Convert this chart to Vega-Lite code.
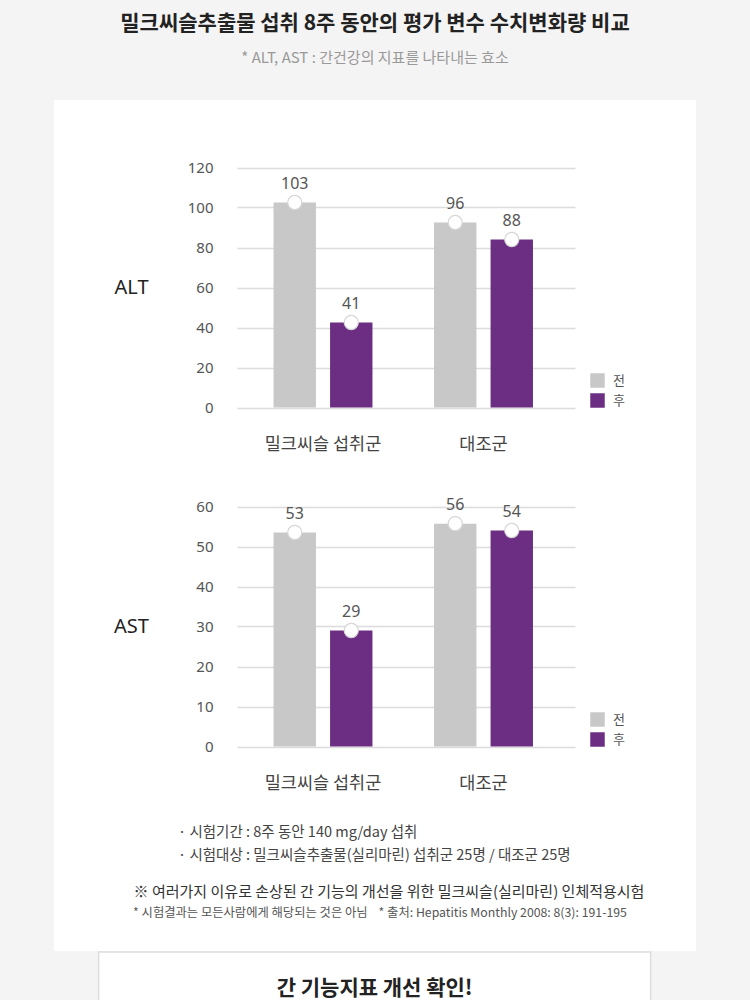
{
  "$schema": "https://vega.github.io/schema/vega-lite/v6.json",
  "background": "#f4f4f4",
  "padding": {"top": 13, "left": 54, "right": 54, "bottom": 0},
  "title": {
    "text": "밀크씨슬추출물 섭취 8주 동안의 평가 변수 수치변화량 비교",
    "subtitle": "* ALT, AST : 간건강의 지표를 나타내는 효소",
    "anchor": "middle",
    "font": "Noto Sans CJK KR",
    "fontSize": 21,
    "fontWeight": 700,
    "color": "#222222",
    "subtitleFont": "Noto Sans CJK KR",
    "subtitleFontSize": 15,
    "subtitleColor": "#999999",
    "subtitlePadding": 16.5,
    "offset": 34.5
  },
  "config": {
    "view": {"stroke": null, "fill": "#ffffff"},
    "font": "Noto Sans CJK KR",
    "axis": {"labelFont": "Noto Sans", "titleFont": "Noto Sans"},
    "legend": {
      "orient": "none",
      "title": null,
      "symbolType": "square",
      "symbolSize": 210,
      "symbolStrokeWidth": 0,
      "symbolOpacity": 1,
      "labelFont": "Noto Sans CJK KR",
      "labelFontSize": 13,
      "labelColor": "#555555",
      "labelOffset": 8,
      "rowPadding": 5,
      "padding": 0
    }
  },
  "spacing": 0,
  "center": true,
  "resolve": {"scale": {"color": "independent"}, "legend": {"color": "independent"}},
  "datasets": {
    "alt": [
      {"group": "밀크씨슬 섭취군", "period": "전", "value": 102.5, "label": "103"},
      {"group": "밀크씨슬 섭취군", "period": "후", "value": 42.5, "label": "41"},
      {"group": "대조군", "period": "전", "value": 92.5, "label": "96"},
      {"group": "대조군", "period": "후", "value": 84, "label": "88"}
    ],
    "ast": [
      {"group": "밀크씨슬 섭취군", "period": "전", "value": 53.5, "label": "53"},
      {"group": "밀크씨슬 섭취군", "period": "후", "value": 29, "label": "29"},
      {"group": "대조군", "period": "전", "value": 55.7, "label": "56"},
      {"group": "대조군", "period": "후", "value": 54, "label": "54"}
    ],
    "notes": [
      {"id": 1, "text": "· 시험기간 : 8주 동안 140 mg/day 섭취"},
      {"id": 2, "text": "· 시험대상 : 밀크씨슬추출물(실리마린) 섭취군 25명 / 대조군 25명"},
      {"id": 3, "text": "※ 여러가지 이유로 손상된 간 기능의 개선을 위한 밀크씨슬(실리마린) 인체적용시험"},
      {"id": 4, "text": "* 시험결과는 모든사람에게 해당되는 것은 아님\u00a0\u00a0\u00a0\u00a0* 출처: Hepatitis Monthly 2008: 8(3): 191-195"}
    ]
  },
  "vconcat": [
    {
      "width": 642,
      "height": 375,
      "data": {"name": "alt"},
      "encoding": {
        "x": {
          "field": "group", "type": "nominal", "sort": ["밀크씨슬 섭취군", "대조군"], "title": null,
          "scale": {"paddingInner": 0, "paddingOuter": 1.0189, "align": 0.588},
          "axis": {"orient": "bottom", "offset": -67.5, "domain": false, "ticks": false, "tickSize": 0, "grid": false, "labelAngle": 0, "labelPadding": 36.5, "labelBaseline": "middle", "labelFont": "Noto Sans CJK KR", "labelFontSize": 17.5, "labelColor": "#444444"}
        },
        "xOffset": {"field": "period", "type": "nominal", "sort": ["전", "후"], "scale": {"paddingInner": 0.25, "paddingOuter": 0.5446}},
        "y": {
          "field": "value", "type": "quantitative", "title": "ALT",
          "scale": {"domain": [-33.75, 153.75], "nice": false, "zero": false},
          "axis": {"values": [0, 20, 40, 60, 80, 100, 120], "offset": -183, "domain": false, "grid": false, "ticks": true, "tickSize": -338, "tickColor": "#dcdcdc", "tickWidth": 1.5, "labelPadding": 362, "labelFontSize": 15, "labelColor": "#555555", "titleAngle": 0, "titleX": -106, "titleY": 187.5, "titleAlign": "center", "titleBaseline": "middle", "titleFontSize": 20, "titleFontWeight": "normal", "titleColor": "#222222", "zindex": 0}
        }
      },
      "layer": [
        {
          "mark": {"type": "bar"},
          "encoding": {
            "y2": {"datum": 0},
            "color": {"field": "period", "type": "nominal", "sort": ["전", "후"], "scale": {"domain": ["전", "후"], "range": ["#c8c8c8", "#6b2e82"]}, "legend": {"legendX": 536, "legendY": 273}}
          }
        },
        {"mark": {"type": "point", "shape": "circle", "filled": true, "fill": "#ffffff", "stroke": "#d6d6d6", "strokeWidth": 1.2, "size": 200, "opacity": 1}},
        {"mark": {"type": "text", "dy": -19, "baseline": "middle", "font": "Noto Sans", "fontSize": 16, "color": "#555555"}, "encoding": {"text": {"field": "label"}}}
      ]
    },
    {
      "width": 642,
      "height": 335,
      "data": {"name": "ast"},
      "encoding": {
        "x": {
          "field": "group", "type": "nominal", "sort": ["밀크씨슬 섭취군", "대조군"], "title": null,
          "scale": {"paddingInner": 0, "paddingOuter": 1.0189, "align": 0.588},
          "axis": {"orient": "bottom", "offset": -63.5, "domain": false, "ticks": false, "tickSize": 0, "grid": false, "labelAngle": 0, "labelPadding": 37, "labelBaseline": "middle", "labelFont": "Noto Sans CJK KR", "labelFontSize": 17.5, "labelColor": "#444444"}
        },
        "xOffset": {"field": "period", "type": "nominal", "sort": ["전", "후"], "scale": {"paddingInner": 0.25, "paddingOuter": 0.5446}},
        "y": {
          "field": "value", "type": "quantitative", "title": "AST",
          "scale": {"domain": [-15.875, 67.875], "nice": false, "zero": false},
          "axis": {"values": [0, 10, 20, 30, 40, 50, 60], "offset": -183, "domain": false, "grid": false, "ticks": true, "tickSize": -338, "tickColor": "#dcdcdc", "tickWidth": 1.5, "labelPadding": 362, "labelFontSize": 15, "labelColor": "#555555", "titleAngle": 0, "titleX": -106, "titleY": 151.5, "titleAlign": "center", "titleBaseline": "middle", "titleFontSize": 20, "titleFontWeight": "normal", "titleColor": "#222222", "zindex": 0}
        }
      },
      "layer": [
        {
          "mark": {"type": "bar"},
          "encoding": {
            "y2": {"datum": 0},
            "color": {"field": "period", "type": "nominal", "sort": ["전", "후"], "scale": {"domain": ["전", "후"], "range": ["#c8c8c8", "#6b2e82"]}, "legend": {"legendX": 536, "legendY": 237}}
          }
        },
        {"mark": {"type": "point", "shape": "circle", "filled": true, "fill": "#ffffff", "stroke": "#d6d6d6", "strokeWidth": 1.2, "size": 200, "opacity": 1}},
        {"mark": {"type": "text", "dy": -19, "baseline": "middle", "font": "Noto Sans", "fontSize": 16, "color": "#555555"}, "encoding": {"text": {"field": "label"}}}
      ]
    },
    {
      "width": 642,
      "height": 141,
      "view": {"stroke": null, "fill": "#ffffff"},
      "data": {"name": "notes"},
      "encoding": {"text": {"field": "text", "type": "nominal"}},
      "layer": [
        {"transform": [{"filter": "datum.id == 1"}], "mark": {"type": "text", "align": "left", "baseline": "middle", "dx": -197, "dy": -47.5, "fontSize": 14.5, "color": "#444444"}},
        {"transform": [{"filter": "datum.id == 2"}], "mark": {"type": "text", "align": "left", "baseline": "middle", "dx": -197, "dy": -24.5, "fontSize": 14.5, "color": "#444444"}},
        {"transform": [{"filter": "datum.id == 3"}], "mark": {"type": "text", "align": "center", "baseline": "middle", "dx": 14, "dy": 11.5, "fontSize": 15, "color": "#333333"}},
        {"transform": [{"filter": "datum.id == 4"}], "mark": {"type": "text", "align": "center", "baseline": "middle", "dx": 5, "dy": 32.5, "fontSize": 12.3, "color": "#555555"}}
      ]
    },
    {
      "width": 552,
      "height": 49,
      "view": {"stroke": "#dddddd", "strokeWidth": 1.5, "fill": "#ffffff"},
      "data": {"values": [{"text": "간 기능지표 개선 확인!"}]},
      "mark": {"type": "text", "baseline": "middle", "dy": 12, "fontSize": 21, "fontWeight": 700, "color": "#222222", "clip": true},
      "encoding": {"text": {"field": "text"}}
    }
  ]
}
